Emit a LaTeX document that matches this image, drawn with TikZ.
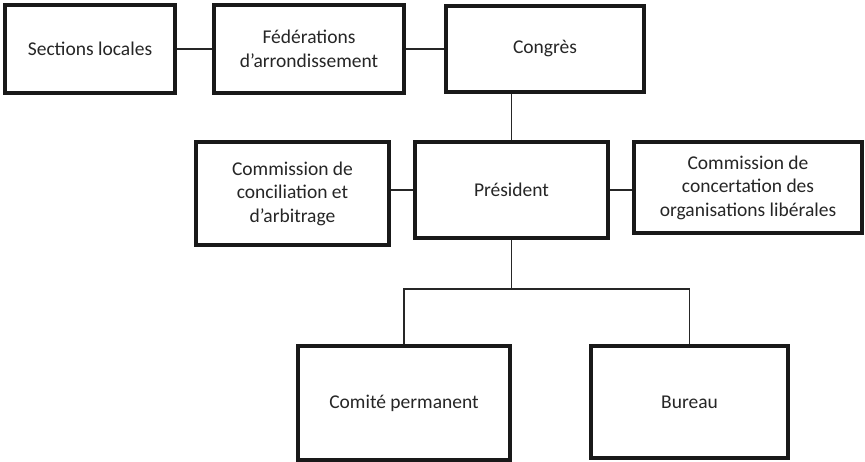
\documentclass[tikz,border=0pt]{standalone}
\usepackage{fontspec}
\setmainfont{Carlito}
\usepackage{tikz}
\usetikzlibrary{positioning, calc}

\begin{document}
\begin{tikzpicture}[
        x=1pt, y=1pt,
        org/.style={draw=black!90, line width=3.2pt, fill=white, align=center, inner sep=2pt,
            text=black!85, font=\fontsize{19.5}{23.5}\selectfont},
        link/.style={draw=black!85, line width=1.2pt},
    ]
        \useasboundingbox (0,0) rectangle (865,-462);
        % ligne du haut
        \node[org, minimum width=170, minimum height=88]  (S) at (90,-49)     {Sections locales};
        \node[org, minimum width=190, minimum height=88]  (F) at (309,-49)    {Fédérations\\d’arrondissement};
        \node[org, minimum width=198, minimum height=86]  (C) at (545,-49)    {Congrès};
        % ligne du milieu
        \node[org, minimum width=193, minimum height=103] (K) at (292.5,-193.5) {Commission de\\conciliation et\\d’arbitrage};
        \node[org, minimum width=193, minimum height=96]  (P) at (511.5,-190)   {Président};
        \node[org, minimum width=228, minimum height=91]  (L) at (748,-187.5)   {Commission de\\concertation des\\organisations libérales};
        % ligne du bas
        \node[org, minimum width=212, minimum height=114] (M) at (404,-403)   {Comité permanent};
        \node[org, minimum width=197, minimum height=112] (B) at (689.5,-402) {Bureau};
        \coordinate (bus) at (511.5,-289);
        \draw[link] (S.east) -- (S.east -| F.west);
        \draw[link] (F.east) -- (F.east -| C.west);
        \draw[link] (P.north) -- (P.north |- C.south);
        \draw[link] (P.west) -- (P.west -| K.east);
        \draw[link] (P.east) -- (P.east -| L.west);
        \draw[link] (P.south) -- (bus);
        \draw[link] (M.north) |- (bus) -| (B.north);
    \end{tikzpicture}
\end{document}
